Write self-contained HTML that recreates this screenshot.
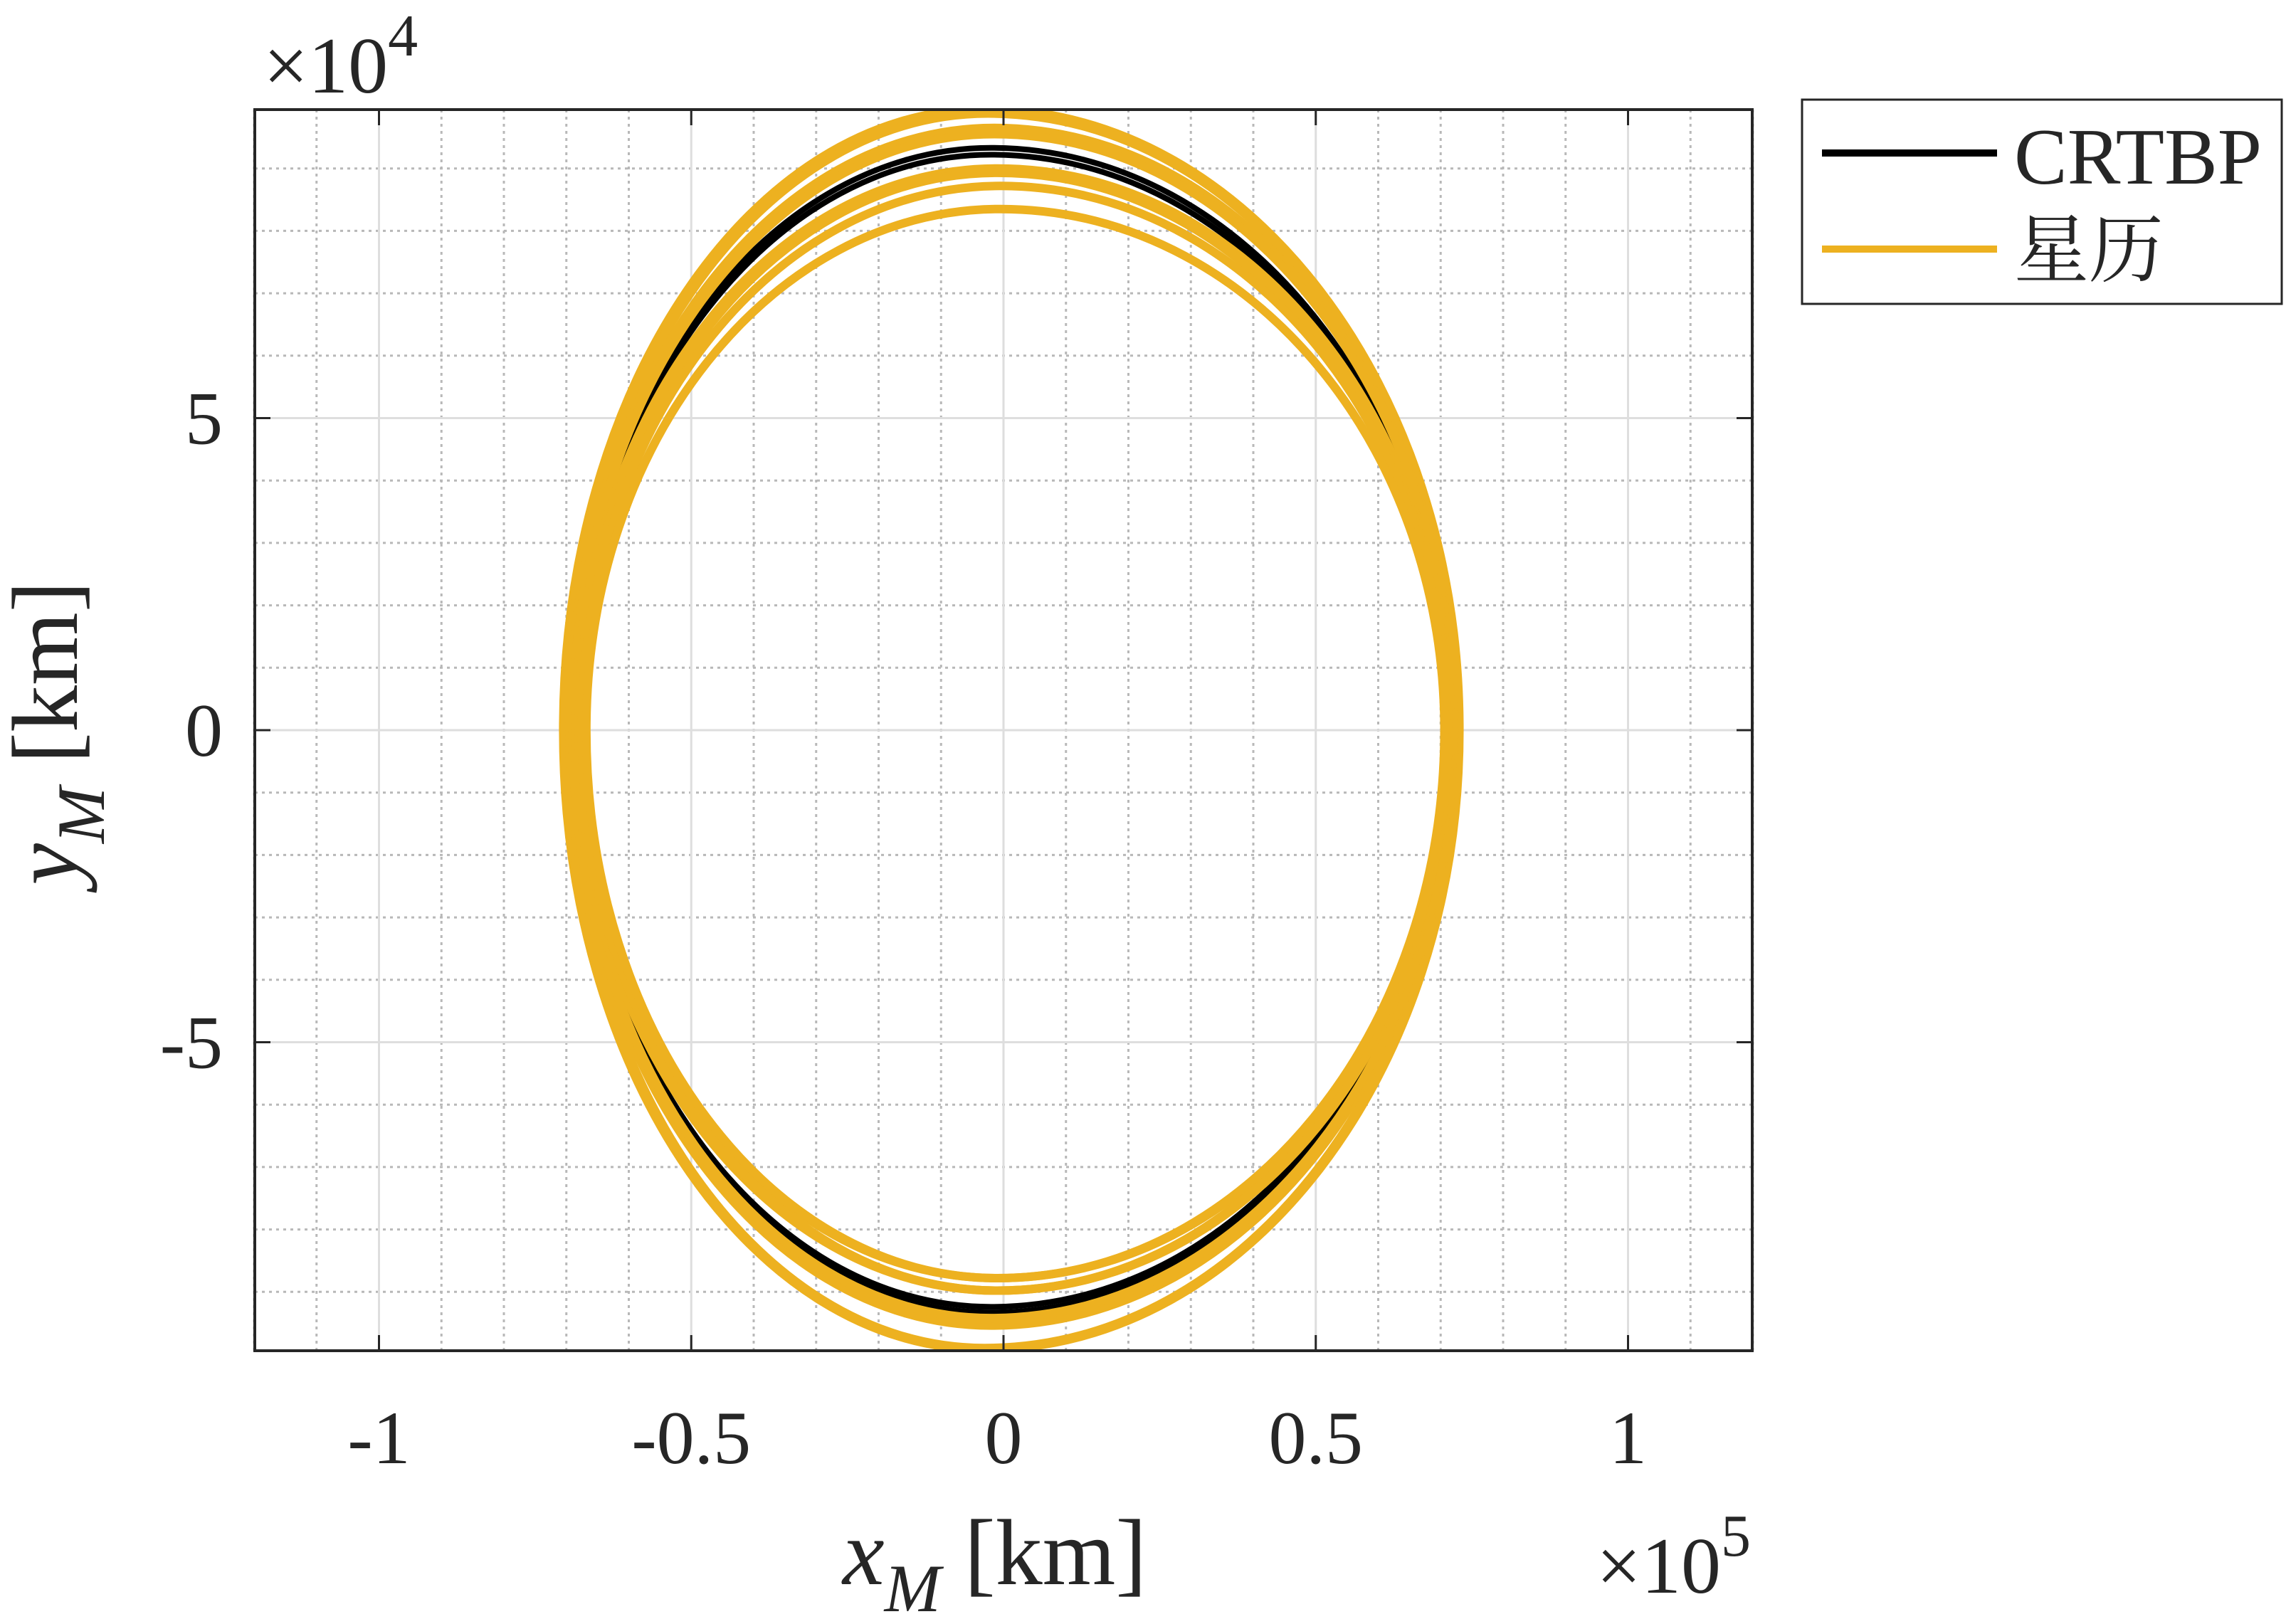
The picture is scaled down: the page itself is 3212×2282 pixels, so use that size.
<!DOCTYPE html>
<html><head><meta charset="utf-8"><style>
html,body{margin:0;padding:0;background:#fff;}
svg{display:block;}
text{font-family:"Liberation Serif","Times New Roman","Noto Serif CJK SC","Noto Sans CJK SC",serif;fill:#262626;}
</style></head><body>
<svg id="chart" width="3212" height="2282" viewBox="0 0 3212 2282" xmlns="http://www.w3.org/2000/svg">
<rect x="0" y="0" width="3212" height="2282" fill="#fff"/>
<g id="grid"></g>
<g id="plot"></g>
<g id="axes"></g>
<text x="370" y="130" font-size="112">×10<tspan dy="-52" font-size="84">4</tspan></text>
<text x="2460" y="2238" font-size="112" text-anchor="end">×10<tspan dy="-52" font-size="84">5</tspan></text>
<text x="1184" y="2226" font-size="132"><tspan font-style="italic">x</tspan><tspan font-style="italic" font-size="95" dy="38">M</tspan><tspan dy="-38"> [km]</tspan></text>
<text transform="translate(108,1030) rotate(-90)" text-anchor="middle" font-size="132"><tspan font-style="italic">y</tspan><tspan font-style="italic" font-size="95" dy="38">M</tspan><tspan dy="-38"> [km]</tspan></text>
<g>
<rect x="2532" y="140" width="674" height="287" fill="#fff" stroke="#262626" stroke-width="3"/>
<line x1="2560" y1="215" x2="2806" y2="215" stroke="#000" stroke-width="10"/>
<text x="2830" y="258" font-size="112">CRTBP</text>
<line x1="2560" y1="350" x2="2806" y2="350" stroke="#EDB120" stroke-width="10"/>
<text x="2830" y="388" font-size="105">星历</text>
</g>
</svg>
<script>
const xTicks = [-1, -0.5, 0, 0.5, 1];
const xTickLabels = ["-1", "-0.5", "0", "0.5", "1"];
const yTicks = [-5, 0, 5];
const yTickLabels = ["-5", "0", "5"];
// CRTBP loops (x in 1e5 km, y in 1e4 km)
const crtbpTop = [9.33, 9.22];
const crtbpBottom = [-9.33, -9.24];
const crtbpLeft = [-0.690, -0.686];
const crtbpRight = [0.716, 0.712];
const crtbpTopX = [-0.02, -0.02];
const crtbpBottomX = [-0.02, -0.02];
// Ephemeris loops
const ephTop = [9.95, 9.88, 9.65, 9.55, 9.0, 8.93, 8.72, 8.35];
const ephBottom = [-9.92, -9.90, -9.54, -9.42, -8.98, -8.78, -8.98, -8.78];
const ephLeft = [-0.705, -0.700, -0.695, -0.690, -0.685, -0.680, -0.675, -0.668];
const ephRight = [0.730, 0.727, 0.722, 0.720, 0.716, 0.712, 0.710, 0.706];
const ephTopX = [-0.03, -0.025, -0.015, -0.015, -0.01, -0.01, -0.005, -0.005];
const ephBottomX = [-0.03, -0.03, -0.02, -0.02, -0.01, -0.01, -0.01, -0.01];

const L = 358, R = 2462, T = 154, B = 1898;
const X0 = 1410, XS = 877.5, Y0 = 1026, YS = 87.7;
const sx = v => X0 + v * XS;
const sy = v => Y0 - v * YS;
const NS = "http://www.w3.org/2000/svg";
const grid = document.getElementById('grid');
const axes = document.getElementById('axes');
const plot = document.getElementById('plot');
function mk(tag, attrs, parent) {
  const e = document.createElementNS(NS, tag);
  for (const k in attrs) e.setAttribute(k, attrs[k]);
  parent.appendChild(e);
  return e;
}
for (let i = -12; i <= 12; i++) {
  if (i % 5 === 0) continue;
  const el = mk('line', {x1: sx(i / 10), x2: sx(i / 10), y1: T, y2: B, stroke: '#b8b8b8', 'stroke-width': 3, 'stroke-dasharray': '4 6'}, grid);
  
  
}
for (let j = -9; j <= 9; j++) {
  if (j % 5 === 0) continue;
  const el = mk('line', {x1: L, x2: R, y1: sy(j), y2: sy(j), stroke: '#b8b8b8', 'stroke-width': 3, 'stroke-dasharray': '4 6'}, grid);
  
  
}
xTicks.forEach((v, i) => {
  const g = mk('line', {x1: sx(v), x2: sx(v), y1: T, y2: B, stroke: '#dedede', 'stroke-width': 3}, grid);
  
  
  const t1 = mk('line', {x1: sx(v), x2: sx(v), y1: T, y2: T + 22, stroke: '#262626', 'stroke-width': 3}, axes);
  
  
  const t2 = mk('line', {x1: sx(v), x2: sx(v), y1: B, y2: B - 22, stroke: '#262626', 'stroke-width': 3}, axes);
  
  
  const lb = mk('text', {x: sx(v), y: 2056, 'font-size': 106, 'text-anchor': 'middle'}, axes);
  lb.textContent = xTickLabels[i];
  
  
});
yTicks.forEach((v, i) => {
  const g = mk('line', {x1: L, x2: R, y1: sy(v), y2: sy(v), stroke: '#dedede', 'stroke-width': 3}, grid);
  
  
  const t1 = mk('line', {x1: L, x2: L + 22, y1: sy(v), y2: sy(v), stroke: '#262626', 'stroke-width': 3}, axes);
  
  
  const t2 = mk('line', {x1: R, x2: R - 22, y1: sy(v), y2: sy(v), stroke: '#262626', 'stroke-width': 3}, axes);
  
  
  const lb = mk('text', {x: 313, y: sy(v) + 36, 'font-size': 106, 'text-anchor': 'end'}, axes);
  lb.textContent = yTickLabels[i];
  
  
});
const box = mk('rect', {x: L, y: T, width: R - L, height: B - T, fill: 'none', stroke: '#262626', 'stroke-width': 4}, axes);



const K = 0.5523;
function loopPath(xl, xr, yt, yb, xt, xb) {
  const Rx = sx(xr), Lx = sx(xl), Ty = sy(yt), By = sy(yb), Tx = sx(xt), Bx = sx(xb), My = sy(0);
  return `M${Rx},${My} C${Rx},${My + K * (Ty - My)} ${Tx + K * (Rx - Tx)},${Ty} ${Tx},${Ty}` +
    ` C${Tx - K * (Tx - Lx)},${Ty} ${Lx},${My + K * (Ty - My)} ${Lx},${My}` +
    ` C${Lx},${My + K * (By - My)} ${Bx - K * (Bx - Lx)},${By} ${Bx},${By}` +
    ` C${Bx + K * (Rx - Bx)},${By} ${Rx},${My + K * (By - My)} ${Rx},${My} Z`;
}
const clip = mk('clipPath', {id: 'clipAx'}, document.getElementById('chart'));
mk('rect', {x: L, y: T, width: R - L, height: B - T}, clip);
plot.setAttribute('clip-path', 'url(#clipAx)');
crtbpTop.forEach((v, i) => {
  const p = mk('path', {d: loopPath(crtbpLeft[i], crtbpRight[i], v, crtbpBottom[i], crtbpTopX[i], crtbpBottomX[i]), fill: 'none', stroke: '#000', 'stroke-width': 8}, plot);
  
  
});
ephTop.forEach((v, i) => {
  const p = mk('path', {d: loopPath(ephLeft[i], ephRight[i], v, ephBottom[i], ephTopX[i], ephBottomX[i]), fill: 'none', stroke: '#EDB120', 'stroke-width': 12}, plot);
  
  
});
</script>
</body></html>
